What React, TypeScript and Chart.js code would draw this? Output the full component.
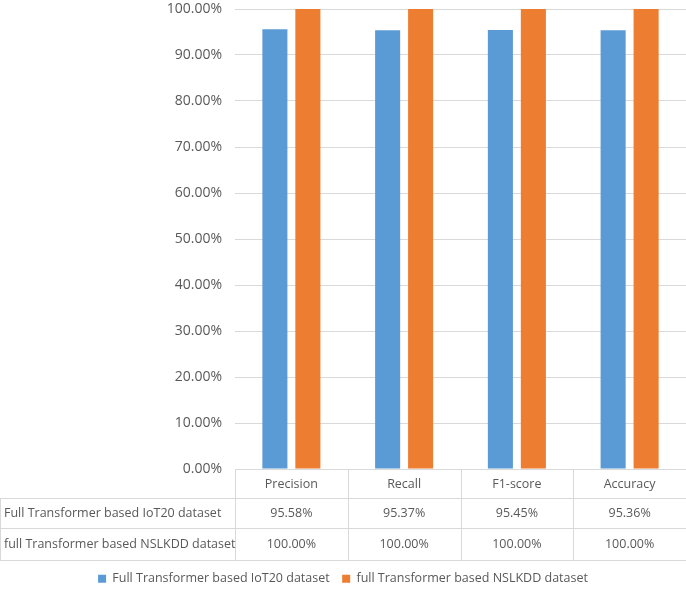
import React, { useEffect, useRef } from "react";
import { Chart, registerables } from "chart.js";

Chart.register(...registerables);

const categories = ["Precision", "Recall", "F1-score", "Accuracy"];
const seriesNames = [
  "Full Transformer based IoT20 dataset",
  "full Transformer based NSLKDD dataset",
];
const iot20Values = [95.58, 95.37, 95.45, 95.36];
const nslkddValues = [100.0, 100.0, 100.0, 100.0];
const seriesColors = ["#5B9BD5", "#ED7D31"];

const FONT = "'Open Sans', Roboto, sans-serif";
const TEXT = "#595959";
const GRID = "#D9D9D9";
const TABLE_H = 91;
const ROW_H = [29, 30, 32];
const SMALL = 12.5;

const tablePlugin = {
  id: "dataTable",
  afterDraw(chart: any) {
    const { ctx, chartArea, scales } = chart;
    const x = scales.x;
    const left = chartArea.left;
    const right = chartArea.right;
    const top = chartArea.bottom;
    const n = categories.length;
    const half = (x.getPixelForValue(1) - x.getPixelForValue(0)) / 2;
    const edges: number[] = [];
    for (let i = 0; i < n; i++) {
      const c = x.getPixelForValue(i);
      if (i === 0) edges.push(c - half);
      edges.push(c + half);
    }
    const y0 = top;
    const y1 = y0 + ROW_H[0];
    const y2 = y1 + ROW_H[1];
    const y3 = y2 + ROW_H[2];
    ctx.save();
    ctx.strokeStyle = GRID;
    ctx.lineWidth = 1;
    ctx.beginPath();
    ctx.moveTo(left, Math.round(y0) + 0.5);
    ctx.lineTo(right, Math.round(y0) + 0.5);
    [y1, y2, y3].forEach((yy) => {
      ctx.moveTo(0, Math.round(yy) + 0.5);
      ctx.lineTo(right, Math.round(yy) + 0.5);
    });
    edges.forEach((ex) => {
      ctx.moveTo(Math.round(ex) + 0.5, y0);
      ctx.lineTo(Math.round(ex) + 0.5, y3);
    });
    ctx.moveTo(0.5, y1);
    ctx.lineTo(0.5, y3);
    ctx.stroke();

    ctx.fillStyle = TEXT;
    ctx.font = `${SMALL}px ${FONT}`;
    ctx.textBaseline = "middle";
    ctx.textAlign = "center";
    categories.forEach((cat, i) => {
      ctx.fillText(cat, x.getPixelForValue(i), (y0 + y1) / 2 + 1);
    });
    const rows = [iot20Values, nslkddValues];
    rows.forEach((vals, r) => {
      const ya = r === 0 ? y1 : y2;
      const yb = r === 0 ? y2 : y3;
      ctx.textAlign = "left";
      ctx.fillText(seriesNames[r], 4, (ya + yb) / 2);
      ctx.textAlign = "center";
      vals.forEach((v, i) => {
        ctx.fillText(v.toFixed(2) + "%", x.getPixelForValue(i), (ya + yb) / 2);
      });
    });
    ctx.restore();
  },
};

export default function App() {
  const ref = useRef<HTMLCanvasElement | null>(null);
  useEffect(() => {
    document.body.style.margin = "0";
    const chart = new Chart(ref.current as HTMLCanvasElement, {
      type: "bar",
      data: {
        labels: categories,
        datasets: [
          {
            label: seriesNames[0],
            data: iot20Values,
            backgroundColor: seriesColors[0],
            categoryPercentage: 0.585,
            barPercentage: 0.76,
          },
          {
            label: seriesNames[1],
            data: nslkddValues,
            backgroundColor: seriesColors[1],
            categoryPercentage: 0.585,
            barPercentage: 0.76,
          },
        ],
      },
      options: {
        animation: false,
        responsive: false,
        maintainAspectRatio: false,
        layout: { padding: 0 },
        plugins: {
          tooltip: { enabled: false },
          legend: {
            position: "bottom",
            labels: {
              boxWidth: 8,
              boxHeight: 8,
              padding: 12.5,
              color: TEXT,
              font: { family: FONT, size: SMALL },
            },
          },
        },
        scales: {
          x: {
            grid: { display: false },
            border: { display: false },
            ticks: { display: false },
            afterFit: (scale: any) => {
              scale.height = TABLE_H;
            },
          },
          y: {
            min: 0,
            max: 100,
            ticks: {
              stepSize: 10,
              padding: 13,
              color: TEXT,
              font: { family: FONT, size: 14 },
              callback: (v: any) => Number(v).toFixed(2) + "%",
            },
            grid: { color: GRID, drawTicks: false },
            border: { display: false },
            afterFit: (scale: any) => {
              scale.width = 235;
              scale.paddingTop = 9;
              scale.paddingBottom = 0;
            },
          },
        },
      },
      plugins: [tablePlugin],
    } as any);
    return () => chart.destroy();
  }, []);
  return (
    <div style={{ width: 686, height: 595, position: "relative" }}>
      <canvas ref={ref} width={686} height={595} />
    </div>
  );
}
